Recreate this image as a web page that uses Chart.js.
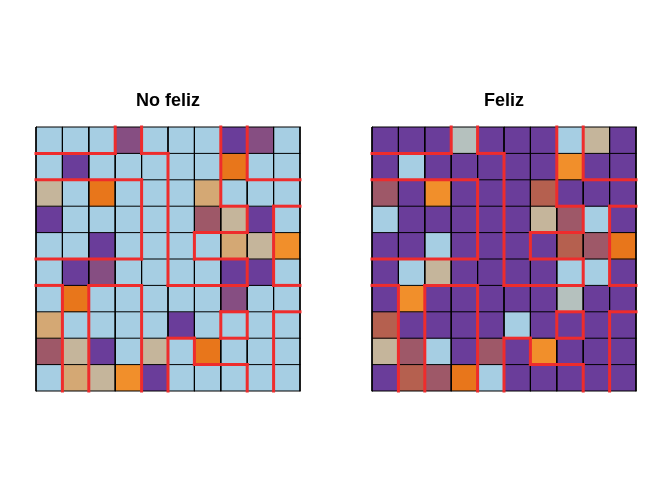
<!DOCTYPE html>
<html>
<head>
<meta charset="utf-8">
<script src="https://cdn.jsdelivr.net/npm/chart.js@4.4.1/dist/chart.umd.min.js"></script>
<style>
  html, body { margin: 0; padding: 0; background: #ffffff; }
  body { width: 672px; height: 480px; position: relative; overflow: hidden; }
  .box { position: absolute; top: 0; width: 284px; height: 401px; }
</style>
</head>
<body>
<div class="box" style="left:26px"><canvas id="c1"></canvas></div>
<div class="box" style="left:362px"><canvas id="c2"></canvas></div>
<script>
// ---- data ----
const titles = ["No feliz", "Feliz"];
const colorCodes = {
  B: "#A6CEE3", P: "#6A3D9A", O: "#E8761B", o: "#F18F2B", T: "#D4A874",
  G: "#C5B59B", M: "#9E5868", L: "#864E82", S: "#B5C1BE", R: "#B5604F"
};
const gridNoFeliz = [
  "BBBLBBBPLB",
  "BPBBBBBOBB",
  "GBOBBBTBBB",
  "PBBBBBMGPB",
  "BBPBBBBTGo",
  "BPLBBBBPPB",
  "BOBBBBBLBB",
  "TBBBBPBBBB",
  "MGPBGBOBBB",
  "BTGoPBBBBB"
];
const gridFeliz = [
  "PPPSPPPBGP",
  "PBPPPPPoPP",
  "MPoPPPRPPP",
  "BPPPPPGMBP",
  "PPBPPPPRMO",
  "PBGPPPPBBP",
  "PoPPPPPSPP",
  "RPPPPBPPPP",
  "GMBPMPoPPP",
  "PRMOBPPPPP"
];
const columns = ["1","2","3","4","5","6","7","8","9","10"];
// red group borders: [y, x1, x2] horizontal, [x, y1, y2] vertical (grid units, y from top)
const hSegs = [
  [1,0,3],[1,4,5],[2,0,4],[2,8,10],[3,7,8],[3,9,10],[4,6,8],[5,0,4],[5,6,8],
  [6,0,1],[6,2,4],[6,5,8],[6,9,10],[7,7,8],[7,9,10],[8,7,8],[8,5,6],[9,6,8]
];
const vSegs = [
  [3,0,1],[4,0,1],[4,2,5],[4,6,10],[5,1,6],[5,8,10],[6,4,5],[6,8,9],
  [7,0,3],[7,7,8],[8,0,2],[8,3,4],[8,5,6],[8,7,8],[8,9,10],[9,3,6],[9,7,10],
  [1,6,10],[2,6,10]
];
const gridLines = [0,1,2,3,4,5,6,7,8,9,10];

function lineDs(pts, color, width, order) {
  return {
    type: "line", data: pts, xAxisID: "x2", yAxisID: "y2",
    borderColor: color, borderWidth: width, pointRadius: 0,
    borderCapStyle: "square", fill: false, clip: false, order: order,
    tension: 0
  };
}

function makeChart(id, title, grid) {
  const datasets = [];
  grid.forEach((row, r) => {
    datasets.push({
      type: "bar",
      xAxisID: "x", yAxisID: "y",
      data: columns.map(() => [r, r + 1]),
      backgroundColor: row.split("").map(c => colorCodes[c]),
      borderWidth: 0,
      grouped: false,
      barPercentage: 1, categoryPercentage: 1,
      order: 3
    });
  });
  gridLines.forEach(g => {
    datasets.push(lineDs([{x: g, y: 0}, {x: g, y: 10}], "#000000", 1, 2));
    datasets.push(lineDs([{x: 0, y: g}, {x: 10, y: g}], "#000000", 1, 2));
  });
  hSegs.forEach(s => datasets.push(lineDs([{x: s[1], y: s[0]}, {x: s[2], y: s[0]}], "#EE2C2C", 3, 1)));
  vSegs.forEach(s => datasets.push(lineDs([{x: s[0], y: s[1]}, {x: s[0], y: s[2]}], "#EE2C2C", 3, 1)));

  new Chart(document.getElementById(id), {
    type: "bar",
    data: { labels: columns, datasets: datasets },
    options: {
      responsive: true, maintainAspectRatio: false, animation: false,
      layout: { padding: { top: 89.9, left: 10, right: 10, bottom: 10 } },
      plugins: {
        legend: { display: false },
        tooltip: { enabled: false },
        title: {
          display: true, text: title, color: "#000000",
          font: { family: "'Liberation Sans', Arial, sans-serif", size: 18, weight: "bold", lineHeight: 1.2 },
          padding: { top: 0, bottom: 15.5 }
        }
      },
      scales: {
        x: { type: "category", labels: columns, offset: true, display: false, grid: { offset: true } },
        y: { type: "linear", display: false, min: 0, max: 10, reverse: true },
        x2: { type: "linear", display: false, min: 0, max: 10, offset: false },
        y2: { type: "linear", display: false, min: 0, max: 10, reverse: true }
      }
    }
  });
}

makeChart("c1", titles[0], gridNoFeliz);
makeChart("c2", titles[1], gridFeliz);
</script>
</body>
</html>
